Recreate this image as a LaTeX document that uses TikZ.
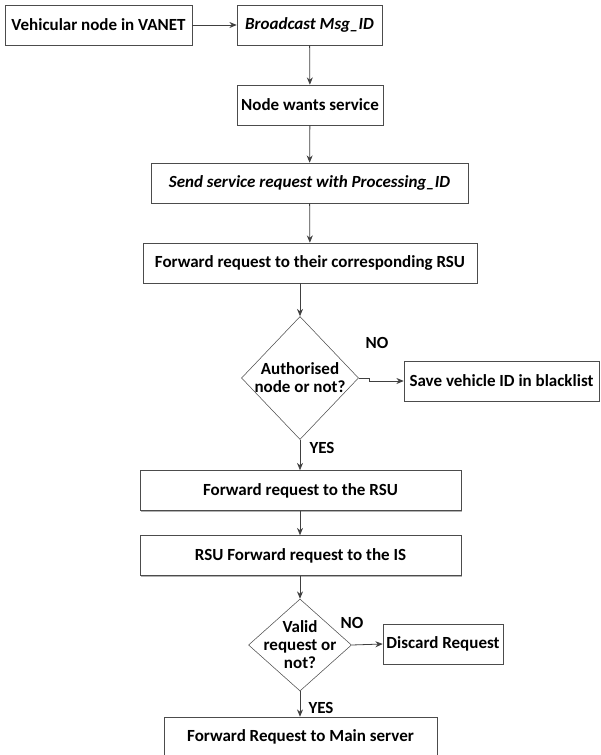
\documentclass[tikz,border=0pt]{standalone}
\usepackage{fontspec}
\setmainfont{Carlito}
\usetikzlibrary{arrows.meta,shapes.geometric,shadows}

\tikzset{
  flowtext/.style={font=\fontsize{12.75}{13.5}\selectfont\bfseries},
  stepbox/.style={flowtext, draw=black!70, fill=white, inner sep=2pt,
    minimum height=30pt,
    drop shadow={shadow xshift=1pt, shadow yshift=-1pt, fill=black!30, opacity=1}},
  decision/.style={diamond, draw=black!70, inner sep=0pt},
  flow/.style={draw=black!75, line width=0.6pt, -{Stealth[length=5.5pt,width=4.5pt]}},
  answer/.style={flowtext},
}

\begin{document}
\begin{tikzpicture}[x=0.75pt,y=-0.75pt]
          \useasboundingbox (0,0) rectangle (600,755);
          % the boxes
          \node[stepbox, minimum width=140.25pt] (veh) at (98.5,25) {Vehicular node in VANET};
          \node[stepbox, minimum width=108.75pt] (bcast) at (309.5,25) {\itshape Broadcast Msg\_ID};
          \node[stepbox, minimum width=109.5pt] (svc) at (310,105) {Node wants service};
          \node[stepbox, minimum width=237.75pt] (send) at (309.5,183) {\itshape Send service request with Processing\_ID};
          \node[stepbox, minimum width=250.5pt] (fwd) at (310,263) {Forward request to their corresponding RSU};
          \node[stepbox, minimum width=146.25pt] (black) at (501.5,381) {Save vehicle ID in blacklist};
          \node[stepbox, minimum width=240.75pt] (rsu) at (300.5,490.5) {Forward request to the RSU};
          \node[stepbox, minimum width=240.75pt] (is) at (300.5,555.5) {RSU Forward request to the IS};
          \node[stepbox, minimum width=90pt] (discard) at (443,644) {Discard Request};
          \node[stepbox, minimum width=204.75pt] (main) at (300.5,737) {Forward Request to Main server};
          % two decisions
          \node[decision, minimum width=87.75pt, minimum height=92.25pt,
            label={[flowtext, align=center]center:Authorised\\node or not?}] (auth) at (300,378) {};
          \node[decision, minimum width=77.25pt, minimum height=69pt,
            label={[flowtext, align=center]center:Valid\\request or\\not?}] (valid) at (300,645) {};
          % answers
          \node[answer] (no1) at (377,343) {NO};
          \node[answer] (yes1) at (322,448) {YES};
          \node[answer] (no2) at (352,623) {NO};
          \node[answer] (yes2) at (321,708) {YES};
          % and the arrows
          \draw[flow] (veh) -- (bcast);
          \draw[flow] (bcast) -- (svc);
          \draw[flow] (svc) -- (send);
          \draw[flow] (send) -- (fwd);
          \draw[flow] (auth.north |- fwd.south) -- (auth.north);
          \draw[flow] (auth.east) -- ++(11,0) |- (black.west);
          \draw[flow] (auth.south) -- (rsu.north -| auth.south);
          \draw[flow] (rsu.south -| auth.south) -- (is.north -| auth.south);
          \draw[flow] (is.south -| valid.north) -- (valid.north);
          \draw[flow] (valid.east) -- (discard.west);
          \draw[flow] (valid.south) -- (main.north -| valid.south);
        \end{tikzpicture}
\end{document}
